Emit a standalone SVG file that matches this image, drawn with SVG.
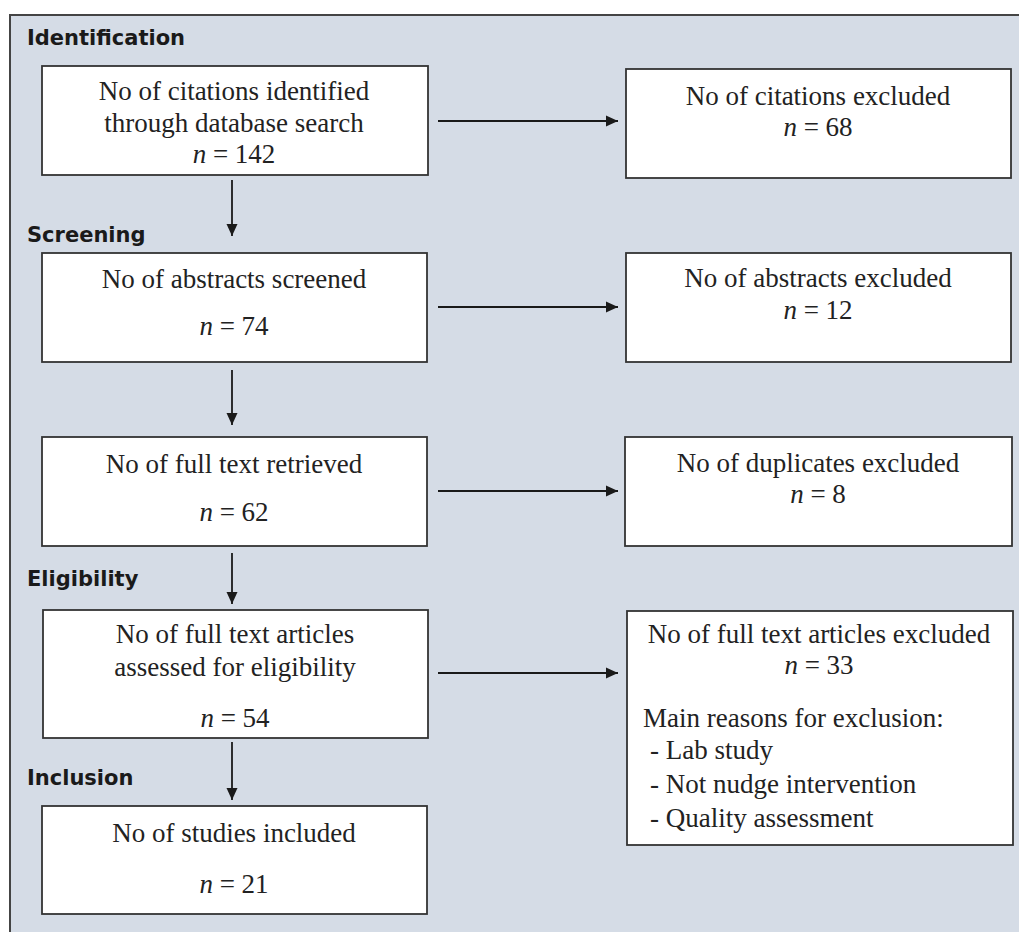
<svg xmlns="http://www.w3.org/2000/svg" width="1019" height="932" viewBox="0 0 1019 932">
<style>
.box{fill:#ffffff;stroke:#333333;stroke-width:1.8}
.t{font-family:"Liberation Serif","Times New Roman",serif;font-size:27px;fill:#222222;text-anchor:middle}
.tl{font-family:"Liberation Serif","Times New Roman",serif;font-size:27px;fill:#222222}
.stage{font-family:"DejaVu Sans","Liberation Sans",Arial,sans-serif;font-size:21px;font-weight:bold;fill:#1a1a1a}
.c{stroke:#1a1a1a;stroke-width:1.8;fill:none;marker-end:url(#ah)}
</style>
<defs>
<marker id="ah" viewBox="0 0 12 12" refX="12" refY="6" markerWidth="12" markerHeight="12" markerUnits="userSpaceOnUse" orient="auto">
<path d="M0,0.5 L12,6 L0,11.5 Z" fill="#1a1a1a"/>
</marker>
</defs>
<rect width="1019" height="932" fill="#ffffff"/>
<path d="M10,945 L10,15 L1019,15" fill="#d5dce6" stroke="#444444" stroke-width="2"/>
<rect x="11" y="16" width="1008" height="916" fill="#d5dce6"/>

<g id="stages">
<text class="stage" x="27" y="45">Identification</text>
<text class="stage" x="27" y="242">Screening</text>
<text class="stage" x="27" y="586">Eligibility</text>
<text class="stage" x="27" y="785">Inclusion</text>
</g>

<g id="connectors">
<line class="c" x1="232" y1="180" x2="232" y2="236"/>
<line class="c" x1="232" y1="370" x2="232" y2="425"/>
<line class="c" x1="232" y1="553" x2="232" y2="604"/>
<line class="c" x1="232" y1="742" x2="232" y2="800"/>
<line class="c" x1="438" y1="121" x2="618" y2="121"/>
<line class="c" x1="438" y1="307" x2="618" y2="307"/>
<line class="c" x1="438" y1="491" x2="618" y2="491"/>
<line class="c" x1="438" y1="673" x2="618" y2="673"/>
</g>

<g id="n1">
<rect class="box" x="42" y="66" width="386" height="109"/>
<text class="t" x="234" y="100">No of citations identified</text>
<text class="t" x="234" y="132">through database search</text>
<text class="t" x="234" y="163"><tspan font-style="italic">n</tspan> = 142</text>
</g>
<g id="n1x">
<rect class="box" x="626" y="69" width="385" height="109"/>
<text class="t" x="818" y="105">No of citations excluded</text>
<text class="t" x="818" y="136"><tspan font-style="italic">n</tspan> = 68</text>
</g>

<g id="n2">
<rect class="box" x="42" y="253" width="385" height="109"/>
<text class="t" x="234" y="288">No of abstracts screened</text>
<text class="t" x="234" y="335"><tspan font-style="italic">n</tspan> = 74</text>
</g>
<g id="n2x">
<rect class="box" x="626" y="253" width="385" height="109"/>
<text class="t" x="818" y="287">No of abstracts excluded</text>
<text class="t" x="818" y="319"><tspan font-style="italic">n</tspan> = 12</text>
</g>

<g id="n3">
<rect class="box" x="42" y="437" width="385" height="109"/>
<text class="t" x="234" y="473">No of full text retrieved</text>
<text class="t" x="234" y="521"><tspan font-style="italic">n</tspan> = 62</text>
</g>
<g id="n3x">
<rect class="box" x="625" y="437" width="387" height="109"/>
<text class="t" x="818" y="472">No of duplicates excluded</text>
<text class="t" x="818" y="503"><tspan font-style="italic">n</tspan> = 8</text>
</g>

<g id="n4">
<rect class="box" x="43" y="610" width="385" height="128"/>
<text class="t" x="235" y="643">No of full text articles</text>
<text class="t" x="235" y="676">assessed for eligibility</text>
<text class="t" x="235" y="727"><tspan font-style="italic">n</tspan> = 54</text>
</g>
<g id="n4x">
<rect class="box" x="627" y="611" width="386" height="234"/>
<text class="t" x="819" y="643">No of full text articles excluded</text>
<text class="t" x="819" y="674"><tspan font-style="italic">n</tspan> = 33</text>
<text class="tl" x="643" y="727">Main reasons for exclusion:</text>
<text class="tl" x="650" y="759">- Lab study</text>
<text class="tl" x="650" y="793">- Not nudge intervention</text>
<text class="tl" x="650" y="827">- Quality assessment</text>
</g>

<g id="n5">
<rect class="box" x="42" y="806" width="385" height="108"/>
<text class="t" x="234" y="842">No of studies included</text>
<text class="t" x="234" y="893"><tspan font-style="italic">n</tspan> = 21</text>
</g>
</svg>
